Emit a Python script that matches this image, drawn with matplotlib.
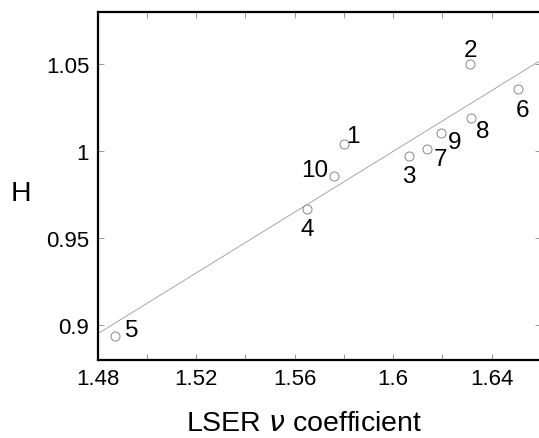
import numpy as np
import matplotlib
matplotlib.use("Agg")
import matplotlib.pyplot as plt
from matplotlib.ticker import FixedLocator

plt.rcParams['font.family'] = ['Liberation Sans', 'DejaVu Sans']

labels = ['1', '2', '3', '4', '5', '6', '7', '8', '9', '10']
lser_v = [1.5800, 1.6312, 1.6065, 1.5651, 1.4871, 1.6508, 1.6138, 1.6315, 1.6194, 1.5759]
h_vals = [1.0042, 1.0500, 0.9971, 0.9665, 0.8938, 1.0357, 1.0013, 1.0192, 1.0106, 0.9856]

# label offsets in pixels (dx, dy) relative to each point
label_offsets = [(9, 8), (0, 14), (0, -20), (0, -20), (17, 6), (4, -21), (13, -10), (12, -13), (14, -9), (-19, 6)]

W, H = 539, 439
fig = plt.figure(figsize=(W / 100, H / 100), dpi=100)
ax = fig.add_axes([97.5 / W, 1 - 360.5 / H, (541 - 97.5) / W, (360.5 - 13) / H])

x = np.array(lser_v)
y = np.array(h_vals)
slope, intercept = np.polyfit(x, y, 1)
xl = np.array([1.48, 1.66])
ax.plot(xl, slope * xl + intercept, color='#9a9a9a', lw=0.6, zorder=1)

ax.plot(x, y, 'o', ms=6.5, mfc='white', mec='#888888', mew=0.7, zorder=2)

for lab, xi, yi, (dx, dy) in zip(labels, x, y, label_offsets):
    ax.annotate(lab, (xi, yi), xytext=(dx, dy), textcoords='offset pixels',
                ha='center', va='center', fontsize=17.5, color='black')

ax.set_xlim(1.48, 1.66)
ax.set_ylim(0.88, 1.08)
ax.xaxis.set_major_locator(FixedLocator([1.48, 1.52, 1.56, 1.60, 1.64]))
ax.xaxis.set_minor_locator(FixedLocator([1.50, 1.54, 1.58, 1.62, 1.66]))
ax.yaxis.set_major_locator(FixedLocator([0.90, 0.95, 1.00, 1.05]))
ax.set_xticklabels(['1.48', '1.52', '1.56', '1.6', '1.64'])
ax.set_yticklabels(['0.9', '0.95', '1', '1.05'])

ax.tick_params(which='both', direction='in', top=True, right=True, length=4,
               width=0.6, color='#888888', labelsize=16, pad=6)
for s in ['left', 'bottom', 'top', 'right']:
    ax.spines[s].set_linewidth(1.6)
    ax.spines[s].set_color('black')

fig.text(304 / W, 1 - 424 / H, r'LSER $\nu$ coefficient', ha='center', va='center', fontsize=20.5)
fig.text(20.5 / W, 1 - 194 / H, 'H', ha='center', va='center', fontsize=20.5)

fig.savefig('out.png', dpi=100)
